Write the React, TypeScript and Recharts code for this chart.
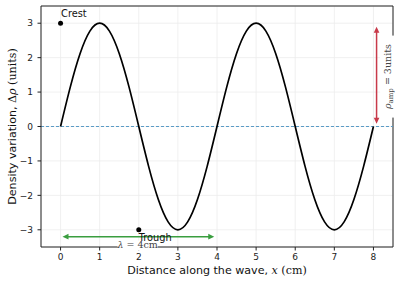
import React from 'react';
import { LineChart, Line, XAxis, YAxis, CartesianGrid, ReferenceLine, ReferenceDot } from 'recharts';

const positions = [0, 0.25, 0.5, 0.75, 1, 1.25, 1.5, 1.75, 2, 2.25, 2.5, 2.75, 3, 3.25, 3.5, 3.75, 4,
  4.25, 4.5, 4.75, 5, 5.25, 5.5, 5.75, 6, 6.25, 6.5, 6.75, 7, 7.25, 7.5, 7.75, 8];
const densityVariation = [0, 1.15, 2.12, 2.77, 3, 2.77, 2.12, 1.15, 0, -1.15, -2.12, -2.77, -3, -2.77, -2.12, -1.15, 0,
  1.15, 2.12, 2.77, 3, 2.77, 2.12, 1.15, 0, -1.15, -2.12, -2.77, -3, -2.77, -2.12, -1.15, 0];
const xTicks = [0, 1, 2, 3, 4, 5, 6, 7, 8];
const yTicks = [-3, -2, -1, 0, 1, 2, 3];
const crestPoint = { x: 0, y: 3 };
const troughPoint = { x: 2, y: -3 };
const wavelengthArrow = { x1: 0.05, x2: 3.93, y: -3.2 };
const amplitudeArrow = { x: 8.08, y1: 0.08, y2: 2.9 };
const wavelengthLabelPos = { x: 1.97, y: -3.43 };
const amplitudeLabelPos = { x: 8.35, y: 1.45 };

const data = positions.map((x, i) => ({ x, y: densityVariation[i] }));

const SANS = '"DejaVu Sans", sans-serif';
const SERIF = '"DejaVu Serif", serif';

const fmt = (v: number) => (v < 0 ? '\u2212' + Math.abs(v) : String(v));

const makeArrow = (color: string) => (props: any) => {
  const { x1, y1, x2, y2 } = props;
  const dx = x2 - x1, dy = y2 - y1;
  const len = Math.hypot(dx, dy) || 1;
  const ux = dx / len, uy = dy / len;
  const hl = 6, hw = 2.8;
  const head = (tx: number, ty: number, dx2: number, dy2: number) => {
    const bx = tx - dx2 * hl, by = ty - dy2 * hl;
    return `${tx},${ty} ${bx - dy2 * hw},${by + dx2 * hw} ${bx + dy2 * hw},${by - dx2 * hw}`;
  };
  return (
    <g>
      <line x1={x1 + ux * 3} y1={y1 + uy * 3} x2={x2 - ux * 3} y2={y2 - uy * 3} stroke={color} strokeWidth={1.5} />
      <polygon points={head(x2, y2, ux, uy)} fill={color} />
      <polygon points={head(x1, y1, -ux, -uy)} fill={color} />
    </g>
  );
};

const crestLabel = (p: any) => {
  const vb = p.viewBox;
  const cx = vb.x + vb.width / 2, cy = vb.y + vb.height / 2;
  return <text x={cx + 0.5} y={cy - 6} fontFamily={SANS} fontSize={9.8} fill="#111">Crest</text>;
};

const troughLabel = (p: any) => {
  const vb = p.viewBox;
  const cx = vb.x + vb.width / 2, cy = vb.y + vb.height / 2;
  return <text x={cx} y={cy + 11.5} fontFamily={SANS} fontSize={9.8} fill="#111">Trough</text>;
};

const lambdaLabel = (p: any) => {
  const vb = p.viewBox;
  const cx = vb.x + vb.width / 2, cy = vb.y + vb.height / 2;
  return (
    <g>
      <rect x={cx - 20} y={cy - 4} width={40} height={10} fill="#fff" />
      <text x={cx} y={cy + 3.5} textAnchor="middle" fontFamily={SERIF} fontSize={9.5} fill="#444">
        <tspan fontStyle="italic">λ</tspan>
        <tspan> = 4cm</tspan>
      </text>
    </g>
  );
};

const rhoLabel = (p: any) => {
  const vb = p.viewBox;
  const cx = vb.x + vb.width / 2, cy = vb.y + vb.height / 2;
  return (
    <g transform={`translate(${cx},${cy}) rotate(-90)`}>
      <rect x={-41} y={-7} width={82} height={14} fill="#fff" />
      <text x={0} y={3.5} textAnchor="middle" fontFamily={SERIF} fontSize={9.5} fill="#444">
        <tspan fontStyle="italic">ρ</tspan>
        <tspan fontSize={7} dy={2}>amp</tspan>
        <tspan dy={-2}> = 3units</tspan>
      </text>
    </g>
  );
};

const xAxisLabel = (p: any) => {
  const vb = p.viewBox;
  const cx = vb.x + vb.width / 2;
  return (
    <text x={cx} y={274} textAnchor="middle" fontSize={11.1} fill="#111" fontFamily={SANS}>
      <tspan>Distance along the wave, </tspan>
      <tspan fontFamily={SERIF} fontStyle="italic">x</tspan>
      <tspan fontFamily={SERIF}> (cm)</tspan>
    </text>
  );
};

const yAxisLabel = (p: any) => {
  const vb = p.viewBox;
  const cy = vb.y + vb.height / 2;
  return (
    <text x={0} y={0} transform={`translate(16,${cy}) rotate(-90)`} textAnchor="middle" fontSize={11.1} fill="#111" fontFamily={SANS}>
      <tspan>Density variation, </tspan>
      <tspan fontFamily={SERIF}>Δ</tspan>
      <tspan fontFamily={SERIF} fontStyle="italic">ρ</tspan>
      <tspan fontFamily={SERIF}> (units)</tspan>
    </text>
  );
};

export default function App() {
  return (
    <div style={{ position: 'absolute', left: 0, top: 0, width: 400, height: 284, background: '#fff' }}>
      <LineChart width={400} height={284} data={data} margin={{ top: 6, right: 7, bottom: 0, left: 0 }}>
        <CartesianGrid stroke="#ececec" strokeWidth={0.8} />
        <XAxis
          type="number"
          dataKey="x"
          domain={[-0.5, 8.5]}
          ticks={xTicks}
          allowDataOverflow
          height={37}
          tickSize={3.5}
          tickMargin={3}
          tickFormatter={fmt}
          axisLine={{ stroke: '#222', strokeWidth: 1 }}
          tickLine={{ stroke: '#222' }}
          tick={{ fontSize: 9, fill: '#222', fontFamily: SANS }}
          label={xAxisLabel}
        />
        <YAxis
          type="number"
          domain={[-3.5, 3.5]}
          ticks={yTicks}
          allowDataOverflow
          width={41}
          tickSize={3.5}
          tickMargin={4.5}
          tickFormatter={fmt}
          axisLine={{ stroke: '#222', strokeWidth: 1 }}
          tickLine={{ stroke: '#222' }}
          tick={{ fontSize: 9, fill: '#222', fontFamily: SANS }}
          label={yAxisLabel}
        />
        <ReferenceLine y={3.5} stroke="#222" strokeWidth={1} />
        <ReferenceLine x={8.5} stroke="#222" strokeWidth={1} />
        <ReferenceLine y={0} stroke="#5a9bc6" strokeWidth={1.1} strokeDasharray="3 2" />
        <Line type="natural" dataKey="y" stroke="#000" strokeWidth={1.7} dot={false} isAnimationActive={false} />
        <ReferenceLine
          segment={[{ x: wavelengthArrow.x1, y: wavelengthArrow.y }, { x: wavelengthArrow.x2, y: wavelengthArrow.y }]}
          shape={makeArrow('#3a9e3f')}
        />
        <ReferenceLine
          segment={[{ x: amplitudeArrow.x, y: amplitudeArrow.y1 }, { x: amplitudeArrow.x, y: amplitudeArrow.y2 }]}
          shape={makeArrow('#c83a4a')}
        />
        <ReferenceDot x={wavelengthLabelPos.x} y={wavelengthLabelPos.y} r={0} fill="none" stroke="none" label={lambdaLabel} ifOverflow="visible" />
        <ReferenceDot x={amplitudeLabelPos.x} y={amplitudeLabelPos.y} r={0} fill="none" stroke="none" label={rhoLabel} ifOverflow="visible" />
        <ReferenceDot x={crestPoint.x} y={crestPoint.y} r={2.5} fill="#000" stroke="none" label={crestLabel} />
        <ReferenceDot x={troughPoint.x} y={troughPoint.y} r={2.5} fill="#000" stroke="none" label={troughLabel} />
      </LineChart>
    </div>
  );
}
